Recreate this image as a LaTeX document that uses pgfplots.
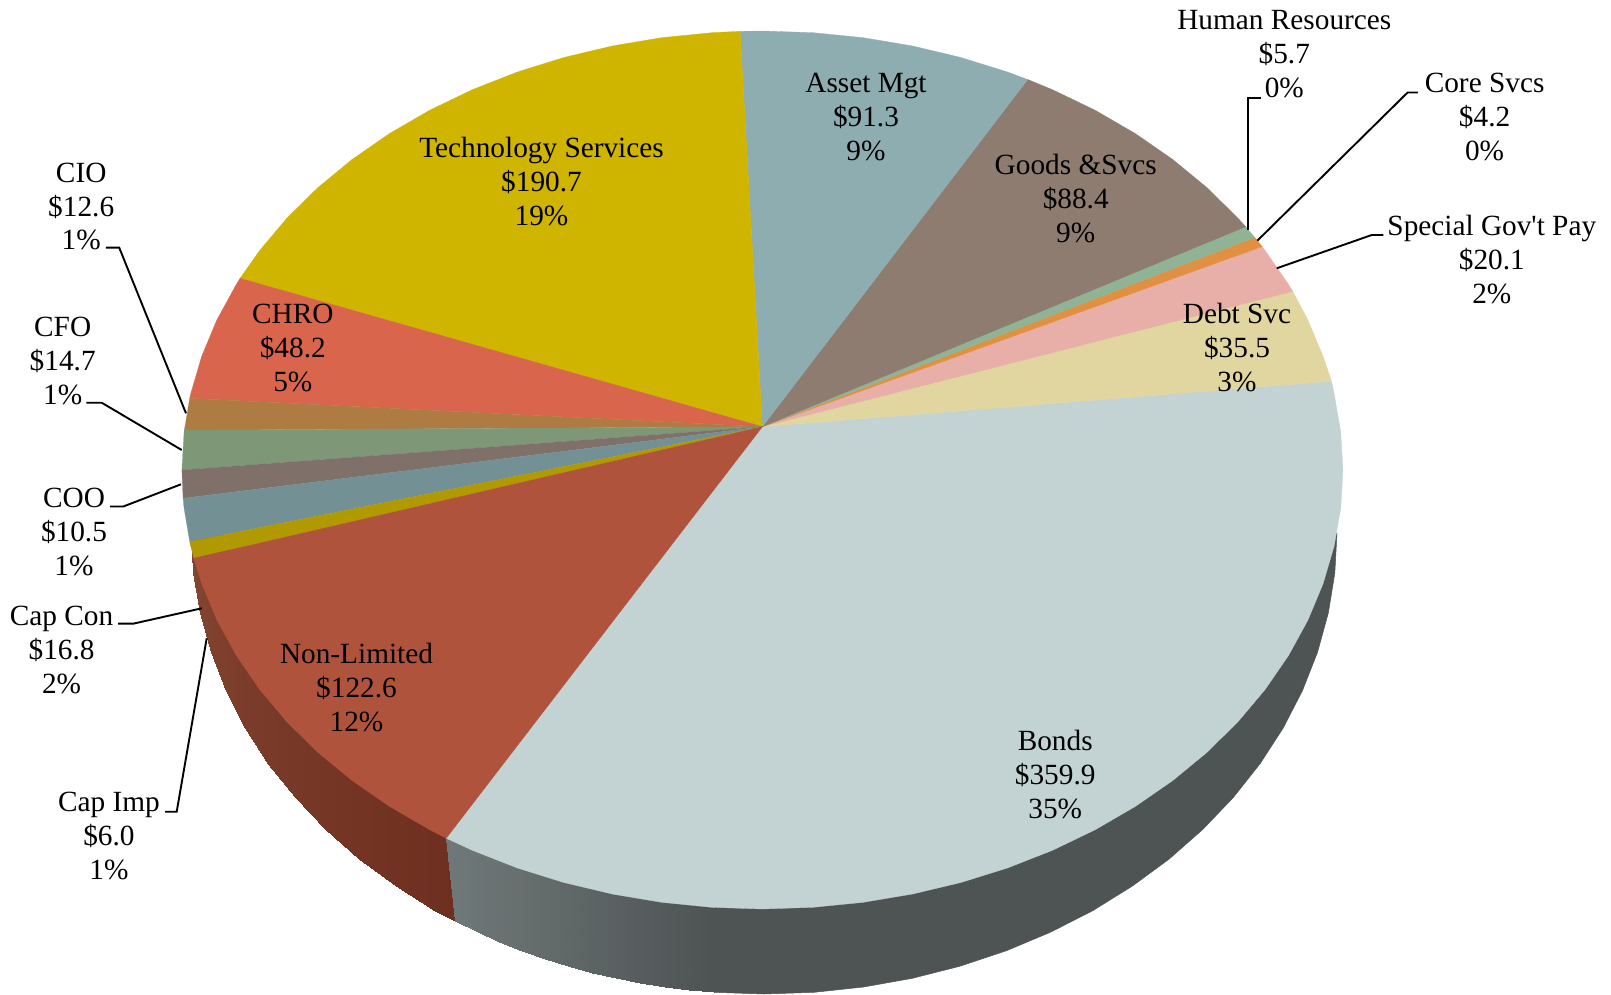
\documentclass[border=0pt]{standalone}
\usepackage{fontspec}
\setmainfont{Liberation Serif}
\newfontfamily\pf{Liberation Serif}
\usepackage{pgfplots}
\pgfplotsset{compat=1.18}
\definecolor{cBonds}{HTML}{C3D3D4}
\definecolor{cDebt}{HTML}{E2D6A0}
\definecolor{cSpecial}{HTML}{E8AFA8}
\definecolor{cCore}{HTML}{E09040}
\definecolor{cHR}{HTML}{8FB394}
\definecolor{cGoods}{HTML}{8E7C70}
\definecolor{cAsset}{HTML}{8DADB0}
\definecolor{cTech}{HTML}{CFB500}
\definecolor{cCHRO}{HTML}{D9664C}
\definecolor{cCIO}{HTML}{AE7B42}
\definecolor{cCFO}{HTML}{7E9877}
\definecolor{cCOO}{HTML}{80706A}
\definecolor{cCapCon}{HTML}{739095}
\definecolor{cCapImp}{HTML}{B09A00}
\definecolor{cNon}{HTML}{B0533C}
\definecolor{rA}{HTML}{844532}
\definecolor{rB}{HTML}{6E2F20}
\definecolor{gA}{HTML}{6F7878}
\definecolor{gB}{HTML}{4E5354}
\pgfplotsset{colormap={redside}{color=(rB) color=(rA)},colormap={greyside}{color=(gB) color=(gA)}}
\newcommand\lab[3]{\node[align=center,inner sep=0pt,yshift=-1pt,font=\fontsize{29.3}{33.9}\selectfont] at (axis cs:#1,#2) {#3};}
\begin{document}
\begin{tikzpicture}
\begin{axis}[scale only axis,width=1611pt,height=995pt,xmin=0,xmax=1611,ymin=0,ymax=995,y dir=reverse,hide axis,clip=false,point meta min=0,point meta max=1]
\path (axis cs:0,0) rectangle (axis cs:1611,995);
% side wall: red part
\addplot[patch,patch type=rectangle,shader=interp,colormap name=redside,point meta=explicit] table[x=x,y=y,meta=m] {
x y m
446.2 838.2 0
455.2 921.2 0
435.3 910.7 0.05
435.3 770 0.05
435.3 910.7 0.05
395.7 886.1 0.14
395.7 736 0.14
435.3 760 0.05
395.7 886.1 0.14
358.8 859.0 0.23
358.8 709 0.23
395.7 736 0.14
358.8 859.0 0.23
325.1 829.3 0.32
325.1 679 0.32
358.8 709 0.23
325.1 829.3 0.32
294.6 797.4 0.41
294.6 647 0.41
325.1 679 0.32
294.6 797.4 0.41
267.8 763.5 0.50
267.8 613 0.50
294.6 647 0.41
267.8 763.5 0.50
244.7 727.8 0.60
244.7 578 0.60
267.8 613 0.50
244.7 727.8 0.60
225.6 690.7 0.70
225.6 541 0.70
244.7 578 0.60
225.6 690.7 0.70
210.5 652.3 0.80
210.5 502 0.80
225.6 541 0.70
210.5 652.3 0.80
199.7 613.0 0.90
199.7 513 0.90
210.5 502 0.80
199.7 613.0 0.90
193.2 573.2 0.97
191 533 1
199.7 513 0.90
};
% side wall: Bonds part
\addplot[fill=gB,draw=gB,line width=.5pt] coordinates {(714,800)(714.0,992.3)(764,994)(814.0,992.3)(863.5,987.0)(912.3,978.3)(960.0,966.2)(1006.2,950.8)(1050.5,932.2)(1092.7,910.7)(1132.3,886.1)(1169.2,859.0)(1202.9,829.3)(1233.4,797.4)(1260.2,763.5)(1283.3,727.8)(1302.4,690.7)(1317.5,652.3)(1328.3,613.0)(1334.8,573.2)(1337,533)} -- cycle;
\addplot[patch,patch type=rectangle,shader=interp,colormap name=greyside,point meta=explicit] table[x=x,y=y,meta=m] {
x y m
714 992.3 0
689.2 990.1 0.09
689.2 840 0.09
714 842 0
689.2 990.1 0.09
664.5 987 0.18
664.5 837 0.18
689.2 840 0.09
664.5 987 0.18
640 983.1 0.27
640 833 0.27
664.5 837 0.18
640 983.1 0.27
615.7 978.3 0.36
615.7 828 0.36
640 833 0.27
615.7 978.3 0.36
591.7 972.7 0.45
591.7 822 0.45
615.7 828 0.36
591.7 972.7 0.45
568 966.2 0.55
568 816 0.55
591.7 822 0.45
568 966.2 0.55
544.7 958.9 0.64
544.7 808 0.64
568 816 0.55
544.7 958.9 0.64
521.8 950.8 0.73
521.8 800 0.73
544.7 808 0.64
521.8 950.8 0.73
499.4 941.9 0.82
499.4 791 0.82
521.8 800 0.73
499.4 941.9 0.82
477.5 932.2 0.91
477.5 782 0.91
499.4 791 0.82
477.5 932.2 0.91
455.2 921.2 1
446.2 838.2 1
477.5 782 0.91
};
% top face
\addplot[fill=cBonds,draw=cBonds,line width=.3pt] coordinates {(762.4,426.7)(1331.5,381.2)(1334.1,393.8)(1340.7,431.7)(1342.9,470)(1340.7,508.3)(1334.1,546.2)(1323.1,583.6)(1307.9,620.1)(1288.5,655.5)(1265.1,689.5)(1237.9,721.8)(1207.1,752.2)(1172.9,780.4)(1135.5,806.3)(1095.4,829.6)(1052.7,850.2)(1007.7,867.9)(960.9,882.5)(912.6,894)(863.2,902.3)(813,907.3)(762.4,909)(711.8,907.3)(661.6,902.3)(612.2,894)(563.9,882.5)(517.1,867.9)(472.1,850.2)(446.2,838.2)} -- cycle;
\addplot[fill=cDebt,draw=cDebt,line width=.3pt] coordinates {(762.4,426.7)(1292.7,291.4)(1307.9,319.9)(1323.1,356.4)(1331.5,381.2)} -- cycle;
\addplot[fill=cSpecial,draw=cSpecial,line width=.3pt] coordinates {(762.4,426.7)(1262.2,246.6)(1265.1,250.5)(1288.5,284.5)(1292.7,291.4)} -- cycle;
\addplot[fill=cCore,draw=cCore,line width=.2pt] coordinates {(762.4,426.7)(1254.7,237.4)(1262.2,246.6)} -- cycle;
\addplot[fill=cHR,draw=cHR,line width=.2pt] coordinates {(762.4,426.7)(1245.7,226.7)(1254.7,237.4)} -- cycle;
\addplot[fill=cGoods,draw=cGoods,line width=.3pt] coordinates {(762.4,426.7)(1027.7,79.5)(1052.7,89.8)(1095.4,110.4)(1135.5,133.7)(1172.9,159.6)(1207.1,187.8)(1237.9,218.2)(1245.7,226.7)} -- cycle;
\addplot[fill=cAsset,draw=cAsset,line width=.3pt] coordinates {(762.4,426.7)(740.1,31.3)(762.4,31)(813,32.7)(863.2,37.7)(912.6,46)(960.9,57.5)(1007.7,72.1)(1027.7,79.5)} -- cycle;
\addplot[fill=cTech,draw=cTech,line width=.3pt] coordinates {(762.4,426.7)(240.1,278.3)(259.7,250.5)(286.9,218.2)(317.7,187.8)(351.9,159.6)(389.3,133.7)(429.4,110.4)(472.1,89.8)(517.1,72.1)(563.9,57.5)(612.2,46)(661.6,37.7)(711.8,32.7)(740.1,31.3)} -- cycle;
\addplot[fill=cCHRO,draw=cCHRO,line width=.3pt] coordinates {(762.4,426.7)(189.7,398.3)(190.7,393.8)(201.7,356.4)(216.9,319.9)(236.3,284.5)(240.1,278.3)} -- cycle;
\addplot[fill=cCIO,draw=cCIO,line width=.2pt] coordinates {(762.4,426.7)(184.3,430.2)(184.1,431.7)(189.7,398.3)} -- cycle;
\addplot[fill=cCFO,draw=cCFO,line width=.2pt] coordinates {(762.4,426.7)(181.9,470)(184.1,431.7)(184.3,430.2)} -- cycle;
\addplot[fill=cCOO,draw=cCOO,line width=.2pt] coordinates {(762.4,426.7)(183.1,498.3)(181.9,470)} -- cycle;
\addplot[fill=cCapCon,draw=cCapCon,line width=.2pt] coordinates {(762.4,426.7)(189.7,541.7)(184.1,508.3)(183.1,498.3)} -- cycle;
\addplot[fill=cCapImp,draw=cCapImp,line width=.2pt] coordinates {(762.4,426.7)(193.8,558.3)(190.7,546.2)(189.7,541.7)} -- cycle;
\addplot[fill=cNon,draw=cNon,line width=.3pt] coordinates {(762.4,426.7)(446.2,838.2)(429.4,829.6)(389.3,806.3)(351.9,780.4)(317.7,752.2)(286.9,721.8)(259.7,689.5)(236.3,655.5)(216.9,620.1)(201.7,583.6)(193.8,558.3)} -- cycle;
% leader lines
\addplot[black,line width=1.9pt] coordinates {(1247.7,230)(1247.7,97.6)(1261,97.6)};
\addplot[black,line width=1.9pt] coordinates {(1257.3,240.7)(1407.6,92.5)(1417.9,92.5)};
\addplot[black,line width=1.9pt] coordinates {(1276.7,268.3)(1371.7,235)(1383.3,235)};
\addplot[black,line width=1.9pt] coordinates {(105.8,247.6)(119.2,247.6)(186,413.3)};
\addplot[black,line width=1.9pt] coordinates {(86.3,402.7)(101.7,402.7)(181.7,450)};
\addplot[black,line width=1.9pt] coordinates {(110,506.5)(123.3,506.5)(181,484.3)};
\addplot[black,line width=1.9pt] coordinates {(118,623.6)(133.6,623.6)(201.7,608.3)};
\addplot[black,line width=1.9pt] coordinates {(165,811.7)(176.7,811.7)(206.7,638.3)};
% labels
\lab{1284.3}{53.4}{Human Resources\\\$5.7\\0\%}
\lab{1484.6}{116.1}{Core Svcs\\\$4.2\\0\%}
\lab{1491.8}{258.9}{Special {\pf Gov't} Pay\\\$20.1\\2\%}
\lab{1237}{346.2}{Debt Svc\\\$35.5\\3\%}
\lab{1075.7}{197.3}{Goods \&Svcs\\\$88.4\\9\%}
\lab{866}{116.1}{Asset Mgt\\\$91.3\\9\%}
\lab{541.5}{180.8}{Technology Services\\\$190.7\\19\%}
\lab{292.8}{347.3}{CHRO\\\$48.2\\5\%}
\lab{81.2}{205.5}{CIO\\\$12.6\\1\%}
\lab{62.7}{359.6}{CFO\\\$14.7\\1\%}
\lab{74}{531.2}{COO\\\$10.5\\1\%}
\lab{61.6}{649.3}{Cap Con\\\$16.8\\2\%}
\lab{108.9}{835.3}{Cap Imp\\\$6.0\\1\%}
\lab{356.5}{686.3}{Non-Limited\\\$122.6\\12\%}
\lab{1055.2}{773.6}{Bonds\\\$359.9\\35\%}
\end{axis}
\end{tikzpicture}
\end{document}
